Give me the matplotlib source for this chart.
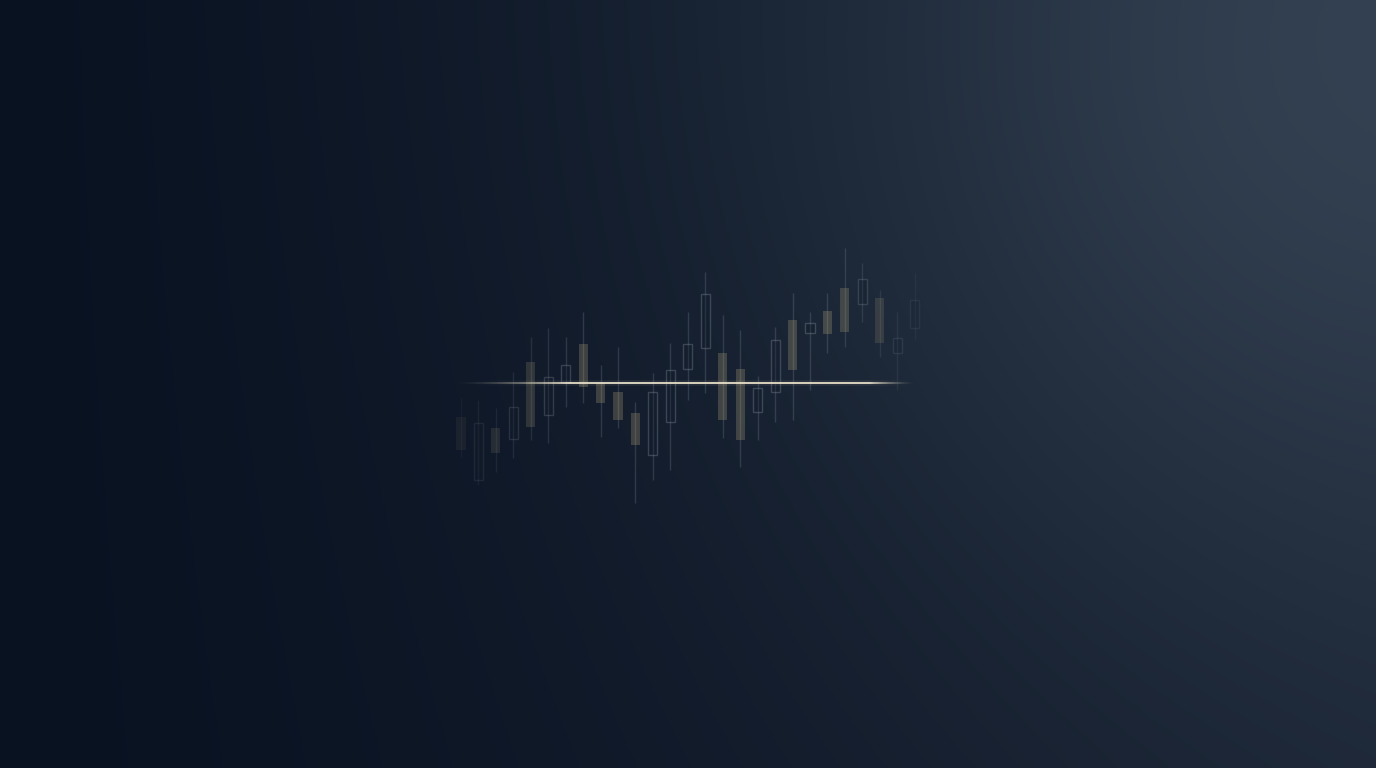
import numpy as np
import matplotlib
matplotlib.use("Agg")
import matplotlib.pyplot as plt
from matplotlib.collections import LineCollection
from matplotlib.patches import Rectangle

# --- candle data (price units, reference line at 100) ---
opens  = [96.6, 90.3, 95.5, 94.4, 102.1, 96.8, 100.1, 103.9, 100.0, 99.1, 97.0, 92.8, 96.1, 101.4,
          103.5, 103.0, 101.4, 97.1, 99.1, 106.3, 105.0, 107.2, 109.5, 107.9, 108.5, 103.0, 105.5]
closes = [93.3, 96.0, 93.0, 97.6, 95.6, 100.6, 101.8, 99.6, 98.0, 96.3, 93.8, 99.1, 101.3, 103.9,
          108.9, 96.3, 94.3, 99.5, 104.3, 101.3, 106.0, 104.9, 105.1, 110.4, 104.0, 104.5, 108.3]
highs  = [98.5, 98.3, 97.5, 101.1, 104.6, 105.5, 104.6, 107.1, 101.8, 103.6, 98.1, 101.0, 104.0, 107.1,
          111.1, 106.8, 105.3, 100.7, 105.6, 109.0, 107.1, 109.0, 113.5, 112.0, 109.3, 107.1, 111.0]
lows   = [92.6, 89.8, 91.1, 92.5, 94.3, 94.0, 97.6, 98.0, 94.6, 95.5, 88.0, 90.3, 91.3, 98.3,
          99.0, 94.5, 91.6, 94.3, 96.1, 96.3, 99.3, 103.0, 103.6, 106.1, 102.6, 99.3, 104.3]
ref_level = 100.0

W, H = 1376, 768
fig = plt.figure(figsize=(W / 100, H / 100), dpi=100)
ax = fig.add_axes([0, 0, 1, 1])
x0, x1 = -26.42, 52.44
y0, y1 = 61.5, 138.3
ax.set_xlim(x0, x1); ax.set_ylim(y0, y1); ax.axis("off")

# --- background: dark navy, lighter toward top-right ---
yy, xx = np.mgrid[0:H, 0:W]
u = xx / W; v = yy / H
left = np.array([9, 18, 33.]); right = np.array([27, 37, 53.])
t = (u ** 1.25)[..., None]
bg = left + (right - left) * t
bg += np.array([5, 7, 8.]) * (1 - v)[..., None] * u[..., None]
d2 = (xx - 1290) ** 2 + (yy - 95) ** 2
bg += np.array([20, 22, 22.]) * np.exp(-d2 / (2 * 360 ** 2))[..., None]
ax.imshow(np.clip(bg, 0, 255).astype(np.uint8), extent=(x0, x1, y0, y1), aspect="auto", zorder=0)

# --- candles ---
n = len(opens)
idx = np.arange(n)
fade = np.clip((idx + 1.5) / 8, 0, 1) * np.clip((n + 0.5 - idx) / 6, 0, 1)
bw = 0.52
for i in range(n):
    o, c, h, l = opens[i], closes[i], highs[i], lows[i]
    a = 0.1 + 0.9 * fade[i]
    ax.vlines(i, l, h, color="#8a96a8", lw=1.0, alpha=0.24 * a, zorder=2)
    lo, hi = min(o, c), max(o, c)
    if c < o:
        ax.add_patch(Rectangle((i - bw / 2, lo), bw, hi - lo, fc="#bfae7e", ec="none",
                               alpha=0.26 * a, zorder=3))
    else:
        ax.add_patch(Rectangle((i - bw / 2, lo), bw, hi - lo, fc="#121c2b", ec="#98a2b2",
                               lw=1.0, alpha=0.3 * a, zorder=3))

# --- glowing reference line ---
xs = np.linspace(-0.4, 26.0, 400)
s = (xs - xs[0]) / (xs[-1] - xs[0])
prof = np.clip(np.minimum(s / 0.25, (1 - s) / 0.1), 0, 1) ** 1.5
segs = [[(xs[k], ref_level), (xs[k + 1], ref_level)] for k in range(len(xs) - 1)]
cols = [(0.92, 0.89, 0.80, 0.9 * p) for p in prof[:-1]]
glow = [(0.92, 0.88, 0.75, 0.08 * p) for p in prof[:-1]]
ax.add_collection(LineCollection(segs, colors=glow, linewidths=4, zorder=4))
ax.add_collection(LineCollection(segs, colors=cols, linewidths=1.4, zorder=5))

fig.savefig("out.png", dpi=100)
